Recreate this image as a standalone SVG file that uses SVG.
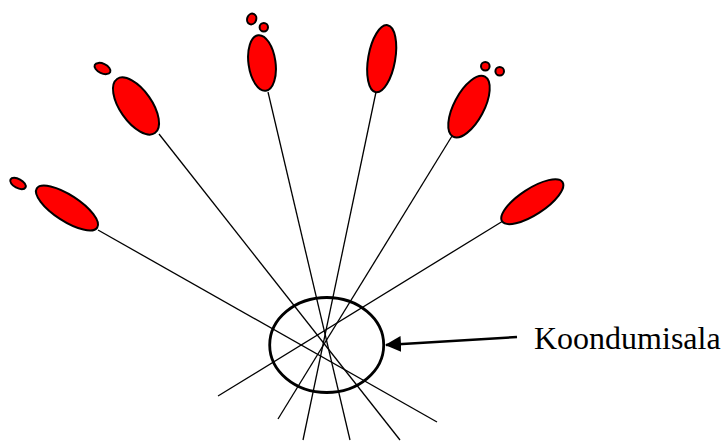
<svg xmlns="http://www.w3.org/2000/svg" width="723" height="441" viewBox="0 0 723 441">
  <style>
    .ray { stroke: #000; stroke-width: 1.3; fill: none; }
    .spot { fill: #ff0000; stroke: #000; stroke-width: 2; }
    .zone { fill: none; stroke: #000; stroke-width: 2.8; }
    .lbl { font-family: "Liberation Serif", "Times New Roman", serif; font-size: 32px; fill: #000; }
  </style>
  <defs>
    <marker id="head" markerWidth="16" markerHeight="16" refX="15" refY="8" orient="auto" markerUnits="userSpaceOnUse">
      <path d="M0,0 L16,8 L0,16 Z" fill="#000"/>
    </marker>
  </defs>

  <!-- rays converging on the focal zone -->
  <g id="connectors">
    <line class="ray" x1="98" y1="230" x2="437" y2="422"/>
    <line class="ray" x1="159" y1="134" x2="400" y2="440"/>
    <line class="ray" x1="268" y1="92" x2="350" y2="440"/>
    <line class="ray" x1="376" y1="92" x2="303" y2="440"/>
    <line class="ray" x1="452" y1="136" x2="278" y2="419"/>
    <line class="ray" x1="503" y1="221" x2="218" y2="396"/>
    <line x1="517" y1="337" x2="386" y2="345" stroke="#000" stroke-width="2.5" marker-end="url(#head)"/>
  </g>

  <g id="source1">
    <ellipse class="spot" cx="67" cy="208" rx="36" ry="13" transform="rotate(33 67 208)"/>
    <ellipse class="spot" cx="18" cy="183.5" rx="8.5" ry="4.5" transform="rotate(28 18 183.5)"/>
  </g>
  <g id="source2">
    <ellipse class="spot" cx="136" cy="106" rx="33" ry="16" transform="rotate(55 136 106)"/>
    <ellipse class="spot" cx="102.5" cy="68.5" rx="8.5" ry="4.8" transform="rotate(25 102.5 68.5)"/>
  </g>
  <g id="source3">
    <ellipse class="spot" cx="262" cy="63" rx="13.5" ry="28" transform="rotate(-8 262 63)"/>
    <ellipse class="spot" cx="251.7" cy="19" rx="4.5" ry="5.5" transform="rotate(20 251.7 19)"/>
    <circle class="spot" cx="263.8" cy="27.2" r="4.2"/>
  </g>
  <g id="source4">
    <ellipse class="spot" cx="381.7" cy="58.7" rx="13.5" ry="34" transform="rotate(10 381.7 58.7)"/>
  </g>
  <g id="source5">
    <ellipse class="spot" cx="469" cy="106.7" rx="34" ry="15" transform="rotate(-62 469 106.7)"/>
    <circle class="spot" cx="485.3" cy="66.2" r="4.3"/>
    <circle class="spot" cx="499.7" cy="71.2" r="4.3"/>
  </g>
  <g id="source6">
    <ellipse class="spot" cx="532.3" cy="201.7" rx="36" ry="13" transform="rotate(-33 532.3 201.7)"/>
  </g>

  <g id="focus">
    <ellipse class="zone" cx="326.7" cy="345" rx="57" ry="47.5"/>
  </g>

  <g id="label">
    <text class="lbl" x="534" y="349">Koondumisala</text>
  </g>
</svg>
